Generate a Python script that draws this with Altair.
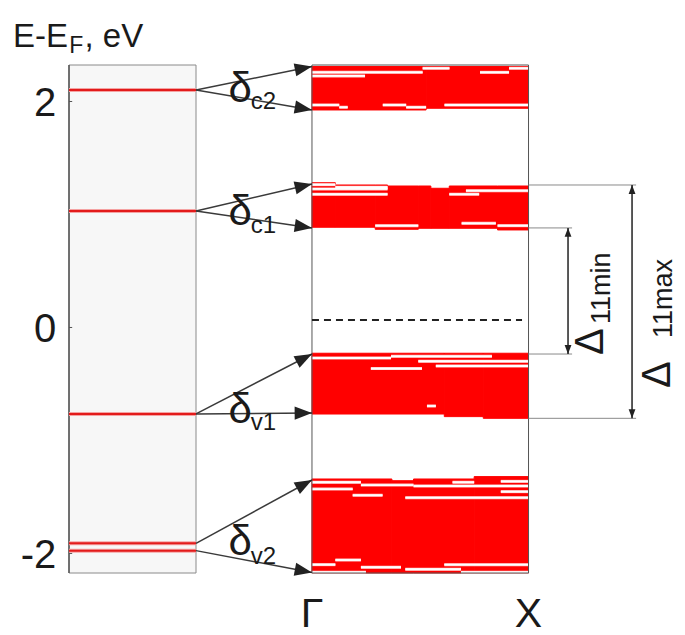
import math
import altair as alt
import pandas as pd

# ---------------- data ----------------
y_ticks = [2, 0, -2]
E_MIN, E_MAX = -2.173, 2.323

# left panel: discrete levels of the fragment (eV)
level_E = [2.102, 1.031, -0.765, -1.910, -1.975]

# right panel: band pieces along Gamma->X (k from 0 to 1), energies in eV
band_k0 = [0.0, 0.527, 0.0, 0.108, 0.292, 0.349, 0.491, 0.549, 0.634, 0.857, 0.0, 0.611, 0.791, 0.0, 0.369, 0.469, 0.749]
band_k1 = [0.527, 1.0, 0.108, 0.292, 0.349, 0.491, 0.549, 0.634, 0.857, 1.0, 0.611, 0.791, 1.0, 0.369, 0.469, 0.749, 1.0]
band_lo = [1.925, 1.940, 0.887, 0.887, 0.869, 0.869, 0.878, 0.878, 0.878, 0.863, -0.766, -0.789, -0.804, -2.173, -2.173, -2.173, -2.173]
band_hi = [2.310, 2.310, 1.281, 1.261, 1.261, 1.252, 1.252, 1.232, 1.252, 1.252, -0.228, -0.228, -0.228, -1.341, -1.356, -1.341, -1.320]

# individual sub-bands visible as white streaks inside the red bands
streak_k0 = [0.511, 0.91, 0.0, 0.776, 0.0, 0.0, 0.327, 0.612, 0.126, 0.435,
             0.0, 0.108, 0.711, 0.0, 0.0, 0.634, 0.691, 0.292, 0.857,
             0.0, 0.365, 0.491, 0.572, 0.272, 0.531,
             0.0, 0.649, 0.872, 0.0, 0.226, 0.469, 0.872, 0.188, 0.431,
             0.108, 0.0, 0.611, 0.226, 0.431, 0.0, 0.688]
streak_k1 = [0.635, 1.0, 0.511, 0.91, 0.245, 0.126, 0.435, 1.0, 0.165, 0.527,
             0.108, 0.349, 1.0, 0.349, 0.349, 0.772, 0.849, 0.491, 1.0,
             0.365, 0.831, 1.0, 1.0, 0.508, 0.572,
             0.226, 0.749, 1.0, 0.188, 0.469, 1.0, 1.0, 0.326, 1.0,
             0.226, 0.108, 1.0, 0.411, 0.688, 0.249, 1.0]
streak_E = [2.294, 2.294, 2.258, 2.258, 2.226, 1.969, 1.969, 1.969, 1.949, 1.949,
            1.264, 1.241, 1.211, 1.226, 1.179, 1.179, 0.922, 0.901, 0.901,
            -0.270, -0.255, -0.299, -0.341, -0.364, -0.695,
            -1.370, -1.370, -1.362, -1.430, -1.395, -1.403, -1.453, -1.485, -1.506,
            -2.058, -2.099, -2.099, -2.122, -2.140, -2.166, -2.166]

fermi_E = 0.066

# arrows: level energy -> band edge energy
arrow_from_E = [2.102, 2.102, 1.031, 1.031, -0.765, -0.765, -1.910, -1.975]
arrow_to_E = [2.310, 1.925, 1.270, 0.881, -0.235, -0.757, -1.350, -2.169]

delta_sub = ["c2", "c1", "v1", "v2"]
delta_E = [1.995, 0.907, -0.845, -2.013]
delta_sub_E = [1.933, 0.836, -0.907, -2.093]

gap_names = ["11min", "11max"]
gap_lo = [-0.235, -0.804]
gap_hi = [0.881, 1.261]

k_labels = ["Γ", "X"]
k_pos = [0.0, 1.0]

# ---------------- layout ----------------
W, H = 608, 508
X_MAX = 4.787
PX_X = W / X_MAX
PX_Y = H / (E_MAX - E_MIN)
LX0, LX1 = 0.0, 1.0          # level panel
GX, XX = 1.913, 3.618        # band panel (Gamma .. X)
GAP_X = [3.929, 4.433]       # vertical gap arrows
GAP_EXT = [3.961, 4.465]

def kx(k):
    return GX + k * (XX - GX)

XS = alt.Scale(domain=[0, X_MAX], nice=False, zero=False)
YS = alt.Scale(domain=[E_MIN, E_MAX], nice=False, zero=False)
FONT = "Liberation Sans"

def X(f="x"):
    return alt.X(f"{f}:Q", scale=XS, axis=None)

def Y(f="y"):
    return alt.Y(f"{f}:Q", scale=YS, axis=None)

layers = []

# left panel background
left_bg = pd.DataFrame({"x": [LX0], "x2": [LX1], "y": [E_MIN], "y2": [E_MAX]})
layers.append(
    alt.Chart(left_bg).mark_rect(fill="#f7f7f7", stroke="#8a8a8a", strokeWidth=1).encode(
        x=X(), x2="x2:Q", y=Y(), y2="y2:Q")
)
layers.append(
    alt.Chart(pd.DataFrame({"x": [LX0], "y": [E_MIN], "y2": [E_MAX]})).mark_rule(
        color="#555", strokeWidth=1.5).encode(x=X(), y=Y(), y2="y2:Q")
)
# small inward ticks on the energy axis
tk = pd.DataFrame({"x": [LX0] * 3, "x2": [0.025] * 3, "y": y_ticks})
layers.append(alt.Chart(tk).mark_rule(color="#555", strokeWidth=1).encode(x=X(), x2="x2:Q", y=Y()))

# levels
lev = pd.DataFrame({"x": [LX0] * len(level_E), "x2": [LX1] * len(level_E), "y": level_E})
layers.append(alt.Chart(lev).mark_rule(color="#f4a3a3", strokeWidth=4).encode(x=X(), x2="x2:Q", y=Y()))
layers.append(alt.Chart(lev).mark_rule(color="#e31b1b", strokeWidth=2).encode(x=X(), x2="x2:Q", y=Y()))

# bands
bands = pd.DataFrame({"x": [kx(k) for k in band_k0], "x2": [kx(k) for k in band_k1],
                      "y": band_lo, "y2": band_hi})
layers.append(alt.Chart(bands).mark_rect(color="#ff0000", stroke="#ff0000", strokeWidth=1).encode(
    x=X(), x2="x2:Q", y=Y(), y2="y2:Q"))

streaks = pd.DataFrame({"x": [kx(k) for k in streak_k0], "x2": [kx(k) for k in streak_k1], "y": streak_E})
layers.append(alt.Chart(streaks).mark_rule(color="#ffc8c8", strokeWidth=3).encode(x=X(), x2="x2:Q", y=Y()))
layers.append(alt.Chart(streaks).mark_rule(color="#ffffff", strokeWidth=1.8).encode(x=X(), x2="x2:Q", y=Y()))

# right panel frame
right_fr = pd.DataFrame({"x": [GX], "x2": [XX], "y": [E_MIN], "y2": [E_MAX]})
layers.append(alt.Chart(right_fr).mark_rect(fillOpacity=0, stroke="#555", strokeWidth=1).encode(
    x=X(), x2="x2:Q", y=Y(), y2="y2:Q"))

# Fermi level dashed
layers.append(alt.Chart(pd.DataFrame({"x": [kx(0.0)], "x2": [kx(0.97)], "y": [fermi_E]})).mark_rule(
    color="#222", strokeWidth=1.8, strokeDash=[7, 5]).encode(x=X(), x2="x2:Q", y=Y()))

# arrows from levels to band edges
arr = pd.DataFrame({"x": [LX1] * len(arrow_from_E), "x2": [GX] * len(arrow_to_E),
                    "y": arrow_from_E, "y2": arrow_to_E})
layers.append(alt.Chart(arr).mark_rule(color="#3a3a3a", strokeWidth=1.5).encode(
    x=X(), x2="x2:Q", y=Y(), y2="y2:Q"))

def ang(x1, y1, x2, y2):
    dx = (x2 - x1) * PX_X
    dy = -(y2 - y1) * PX_Y
    return math.degrees(math.atan2(dy, dx)) % 360

heads = pd.DataFrame({"x": [GX] * len(arrow_to_E), "y": arrow_to_E,
                      "a": [ang(LX1, a, GX, b) for a, b in zip(arrow_from_E, arrow_to_E)]})
HEAD = "M0,0L-2,-0.76L-2,0.76Z"
layers.append(alt.Chart(heads).mark_point(shape=HEAD, filled=True, size=300, color="#222",
                                          opacity=1, strokeWidth=0).encode(
    x=X(), y=Y(), angle=alt.Angle("a:Q", scale=None)))

# gap annotations (extension lines, double arrows)
ext = pd.DataFrame({"x": [XX] * 4, "x2": [GAP_EXT[0], GAP_EXT[0], GAP_EXT[1], GAP_EXT[1]],
                    "y": [gap_lo[0], gap_hi[0], gap_lo[1], gap_hi[1]]})
layers.append(alt.Chart(ext).mark_rule(color="#8a8a8a", strokeWidth=1).encode(x=X(), x2="x2:Q", y=Y()))
gv = pd.DataFrame({"x": GAP_X, "y": gap_lo, "y2": gap_hi})
layers.append(alt.Chart(gv).mark_rule(color="#222", strokeWidth=1.5).encode(x=X(), y=Y(), y2="y2:Q"))
gh = pd.DataFrame({"x": GAP_X + GAP_X, "y": gap_hi + gap_lo, "a": [270, 270, 90, 90]})
layers.append(alt.Chart(gh).mark_point(shape=HEAD, filled=True, size=80, color="#222",
                                       opacity=1, strokeWidth=0).encode(
    x=X(), y=Y(), angle=alt.Angle("a:Q", scale=None)))

# text helper
def text_layer(df, size, **kw):
    return alt.Chart(df).mark_text(font=FONT, fontSize=size, color="#1a1a1a", **kw).encode(
        x=X(), y=Y(), text="t:N")

# energy tick labels
yl = pd.DataFrame({"x": [-0.1] * 3, "y": y_ticks, "t": ["" + str(v) for v in y_ticks]})
layers.append(text_layer(yl, 40, align="right", baseline="alphabetic", dy=15))

# delta labels
dl = pd.DataFrame({"x": [1.256] * 4, "y": delta_E, "t": ["δ"] * 4})
ds = pd.DataFrame({"x": [1.43] * 4, "y": delta_sub_E, "t": delta_sub})
layers.append(text_layer(dl, 42, align="left", baseline="alphabetic"))
layers.append(text_layer(ds, 24, align="left", baseline="alphabetic"))

# Delta labels (rotated)
gl = pd.DataFrame({"x": [4.205, 4.735], "y": [-0.243, -0.535], "t": ["Δ", "Δ"]})
gs = pd.DataFrame({"x": [4.262, 4.745], "y": [0.031, -0.093], "t": gap_names})
layers.append(text_layer(gl, 40, align="left", baseline="alphabetic", angle=270))
layers.append(text_layer(gs, 27, align="left", baseline="alphabetic", angle=270))

# k-point labels
kl = pd.DataFrame({"x": [kx(k) for k in k_pos], "y": [-2.655, -2.655], "t": k_labels})
layers.append(text_layer(kl, 41, align="center", baseline="alphabetic"))

# axis title E-E_F, eV
tt = pd.DataFrame({"x": [-0.441, 0.122], "y": [2.482, 2.482], "t": ["E-E", ", eV"]})
ts = pd.DataFrame({"x": [0.002], "y": [2.425], "t": ["F"]})
layers.append(text_layer(tt, 33, align="left", baseline="alphabetic"))
layers.append(text_layer(ts, 23, align="left", baseline="alphabetic"))

chart = alt.layer(*layers).properties(
    width=W, height=H,
    background="white",
    autosize=alt.AutoSizeParams(type="none"),
    padding={"left": 61, "top": 57, "right": 0, "bottom": 62},
).configure_view(strokeWidth=0)

chart.save("out.html", embed_options={"renderer": "svg", "actions": False})
